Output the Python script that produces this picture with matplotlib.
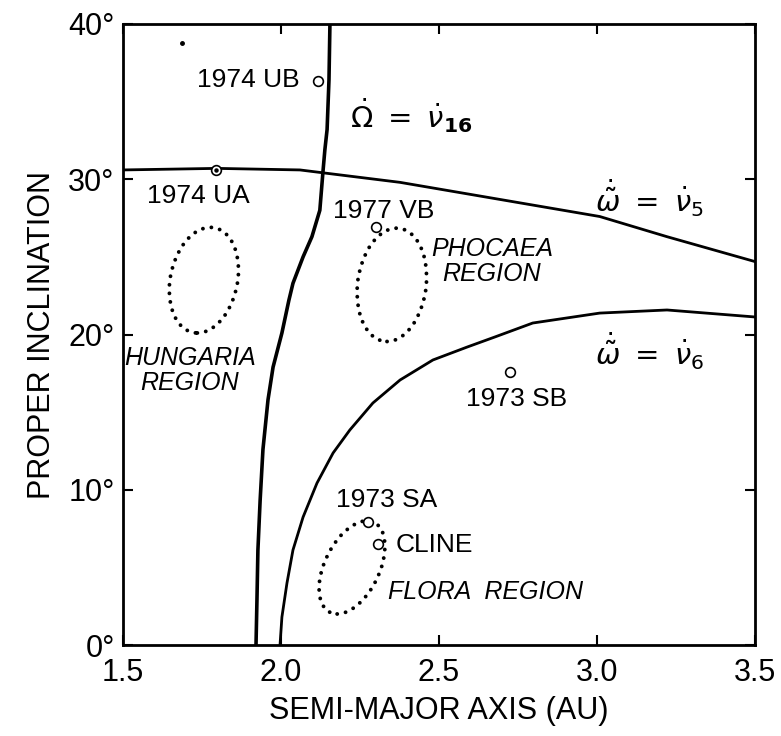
import numpy as np
import matplotlib
matplotlib.use("Agg")
import matplotlib.pyplot as plt
from matplotlib.patches import Ellipse

plt.rcParams['font.family'] = ['Liberation Sans', 'DejaVu Sans']
plt.rcParams['mathtext.fontset'] = 'dejavusans'

# secular resonance boundaries (semi-major axis AU, proper inclination deg)
nu16_a = [1.921, 1.924, 1.927, 1.934, 1.943, 1.959, 1.975, 2.003, 2.025, 2.038,
          2.070, 2.098, 2.123, 2.133, 2.139, 2.146, 2.152, 2.155]
nu16_i = [0.0, 2.9, 6.1, 9.3, 12.6, 15.8, 17.9, 20.1, 22.2, 23.3,
          25.0, 26.3, 28.0, 30.5, 31.9, 33.2, 36.4, 40.0]

nu5_a = [1.5, 1.797, 2.060, 2.139, 2.377, 2.693, 3.009, 3.222, 3.5]
nu5_i = [30.6, 30.7, 30.6, 30.4, 29.8, 28.7, 27.6, 26.3, 24.7]

nu6_a = [1.997, 2.003, 2.019, 2.038, 2.070, 2.114, 2.165, 2.218, 2.291, 2.377,
         2.481, 2.589, 2.677, 2.797, 3.009, 3.222, 3.5]
nu6_i = [0.0, 1.80, 3.99, 6.12, 8.24, 10.43, 12.37, 13.85, 15.59, 17.07,
         18.36, 19.19, 19.84, 20.74, 21.38, 21.58, 21.13]

# asteroids
ast_names = ["1974 UB", "1974 UA", "1977 VB", "1973 SB", "1973 SA", "CLINE"]
ast_a = [2.117, 1.794, 2.300, 2.725, 2.275, 2.307]
ast_i = [36.3, 30.6, 26.9, 17.6, 7.9, 6.5]

# dotted regions: centre a, centre i, width (AU), height (deg), tilt
region_a = [1.756, 2.351, 2.225]
region_i = [23.5, 23.2, 5.0]
region_w = [0.215, 0.218, 0.186]
region_h = [6.8, 7.3, 6.0]
region_tilt = [-0.35, -0.24, -0.9]

fig = plt.figure(figsize=(7.81, 7.36), dpi=100)
ax = fig.add_axes([0.1575, 0.1236, 0.809, 0.8438])

ax.plot(nu16_a, nu16_i, color='black', lw=2.6, solid_joinstyle='round')
ax.plot(nu5_a, nu5_i, color='black', lw=2.0, solid_joinstyle='round')
ax.plot(nu6_a, nu6_i, color='black', lw=2.0, solid_joinstyle='round')

for a0, i0, w, h, t in zip(region_a, region_i, region_w, region_h, region_tilt):
    e = Ellipse((a0, i0), w, h, angle=t, fill=False, edgecolor='black',
                lw=2.8, linestyle=(0, (0.01, 2.2)), capstyle='round')
    ax.add_patch(e)

ax.plot(ast_a, ast_i, 'o', ms=7, mfc='white', mec='black', mew=1.2, zorder=5)
ax.plot(ast_a[1], ast_i[1], 'o', ms=2.2, color='black', zorder=6)
ax.plot(1.687, 38.8, 'o', ms=2.5, color='black')

fs = 19
ax.text(2.060, 36.4, ast_names[0], fontsize=fs, ha='right', va='center')
ax.text(1.737, 28.9, ast_names[1], fontsize=fs, ha='center', va='center')
ax.text(2.326, 27.95, ast_names[2], fontsize=fs, ha='center', va='center')
ax.text(2.747, 15.85, ast_names[3], fontsize=fs, ha='center', va='center')
ax.text(2.335, 9.34, ast_names[4], fontsize=fs, ha='center', va='center')
ax.text(2.364, 6.44, ast_names[5], fontsize=fs, ha='left', va='center')

ax.text(1.712, 17.7, "HUNGARIA\nREGION", fontsize=18, style='italic',
        ha='center', va='center', linespacing=1.05)
ax.text(2.668, 24.7, "PHOCAEA\nREGION", fontsize=18, style='italic',
        ha='center', va='center', linespacing=1.05)
ax.text(2.649, 3.4, "FLORA  REGION", fontsize=18, style='italic',
        ha='center', va='center')

ax.text(2.218, 34.1, r'$\dot{\Omega}\ =\ \dot{\nu}_{\mathbf{16}}$', fontsize=21,
        ha='left', va='center')
ax.text(2.994, 28.8, r'$\dot{\tilde{\omega}}\ =\ \dot{\nu}_5$', fontsize=21,
        ha='left', va='center')
ax.text(2.994, 18.9, r'$\dot{\tilde{\omega}}\ =\ \dot{\nu}_6$', fontsize=21,
        ha='left', va='center')

ax.set_xlim(1.5, 3.5)
ax.set_ylim(0, 40)
xt = [1.5, 2.0, 2.5, 3.0, 3.5]
yt = [0, 10, 20, 30, 40]
ax.set_xticks(xt)
ax.set_xticklabels(["1.5", "2.0", "2.5", "3.0", "3.5"])
ax.set_yticks(yt)
ax.set_yticklabels(["0°", "10°", "20°", "30°", "40°"])
ax.tick_params(direction='in', length=7, width=1.5, labelsize=22,
               top=True, right=True)
ax.tick_params(axis='x', pad=9)
ax.tick_params(axis='y', pad=6)
for s in ax.spines.values():
    s.set_linewidth(2.0)

ax.set_xlabel("SEMI-MAJOR AXIS (AU)", fontsize=22, labelpad=6)
ax.set_ylabel("PROPER INCLINATION", fontsize=22, labelpad=8)

fig.savefig("out.png", dpi=100)
